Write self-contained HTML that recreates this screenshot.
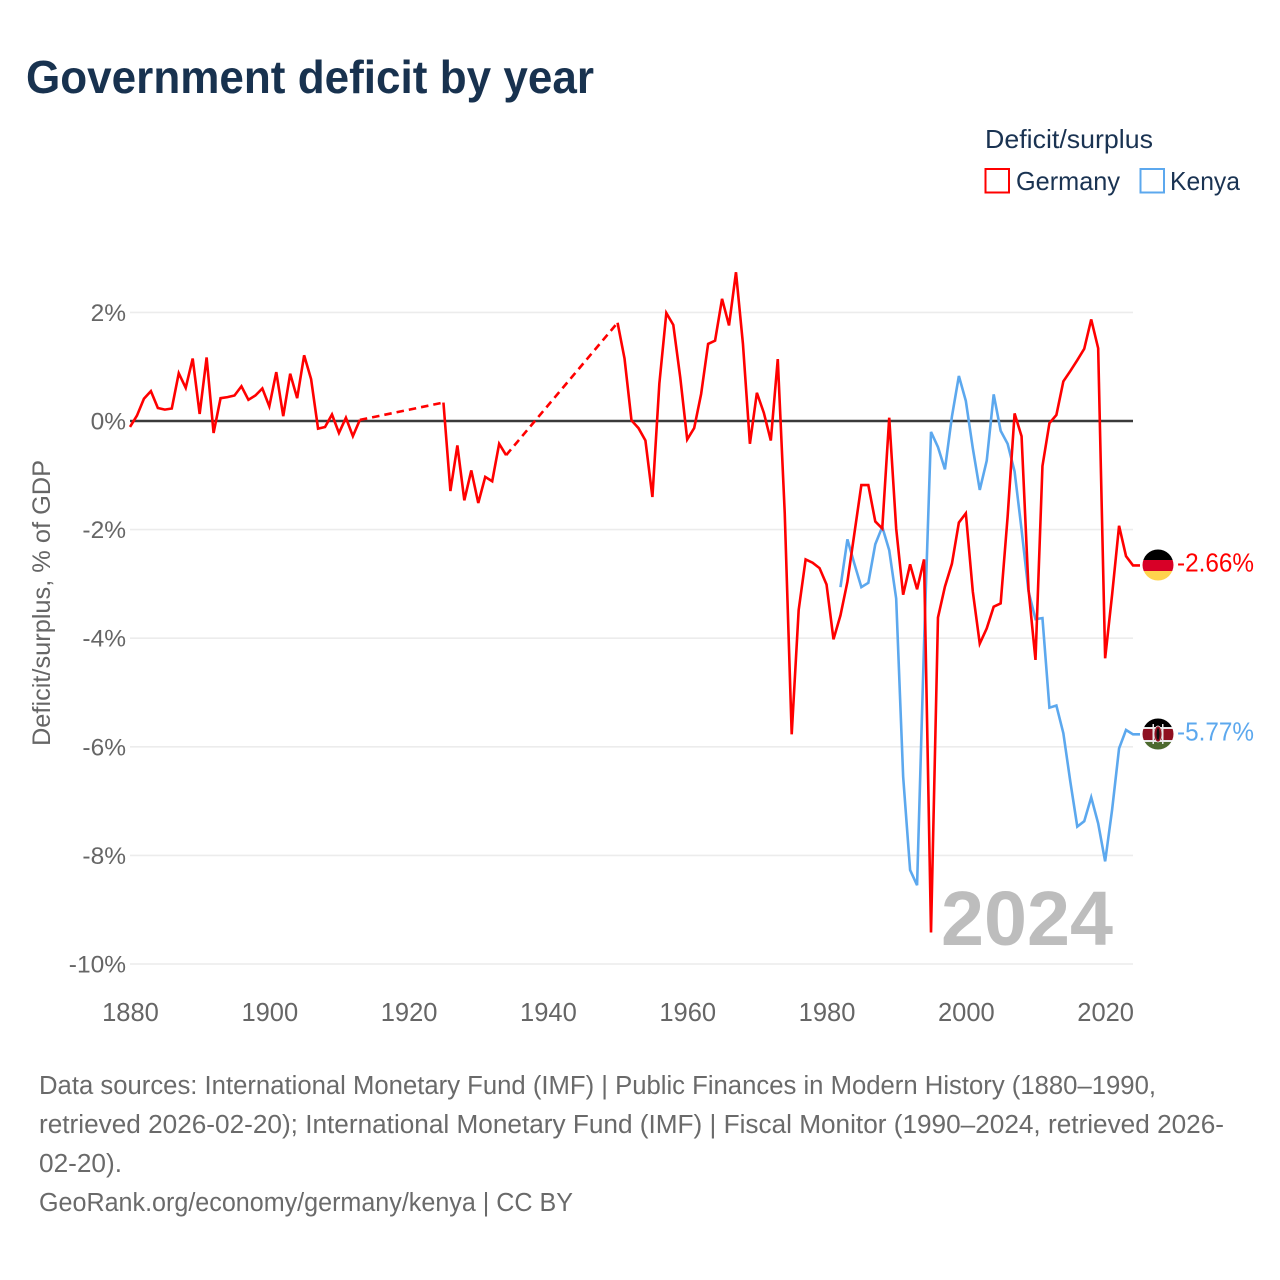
<!DOCTYPE html>
<html lang="en">
<head>
<meta charset="utf-8">
<title>Government deficit by year</title>
<style>
html,body{margin:0;padding:0;background:#fff;}
svg{display:block;}
text{font-family:"Liberation Sans",sans-serif;}
</style>
</head>
<body>
<svg id="chart" xmlns="http://www.w3.org/2000/svg" width="1280" height="1280" viewBox="0 0 1280 1280">
  <defs>
    <clipPath id="clip-de"><circle cx="1158" cy="565" r="15.5"/></clipPath>
    <clipPath id="clip-ke"><circle cx="1158" cy="734" r="15.5"/></clipPath>
  </defs>
  <rect x="0" y="0" width="1280" height="1280" fill="#ffffff"/>
  <text x="26" y="93" font-size="46" font-weight="700" fill="#18324f" textLength="568" lengthAdjust="spacingAndGlyphs">Government deficit by year</text>

  <g>
    <text x="985" y="148" font-size="26" fill="#1a3352" textLength="168" lengthAdjust="spacingAndGlyphs">Deficit/surplus</text>
    <g>
      <rect x="985.5" y="169" width="23.5" height="23.5" fill="#ffffff" stroke="#ff0000" stroke-width="2"/>
      <text x="1016" y="190" font-size="26" fill="#1a3352" textLength="104" lengthAdjust="spacingAndGlyphs">Germany</text>
    </g>
    <g>
      <rect x="1140.5" y="169" width="23.5" height="23.5" fill="#ffffff" stroke="#5ca8ee" stroke-width="2"/>
      <text x="1170" y="190" font-size="26" fill="#1a3352" textLength="70" lengthAdjust="spacingAndGlyphs">Kenya</text>
    </g>
  </g>

  <text transform="translate(50,603) rotate(-90)" text-anchor="middle" font-size="25" fill="#666666" textLength="286" lengthAdjust="spacingAndGlyphs">Deficit/surplus, % of GDP</text>

  <g id="grid"></g>
  <g id="yticks"></g>
  <g id="xticks"></g>

  <text x="941" y="945" font-size="77" font-weight="700" fill="#bdbdbd" textLength="172" lengthAdjust="spacingAndGlyphs">2024</text>

  <g id="series"></g>

  <g>
    <g clip-path="url(#clip-de)">
      <rect x="1142" y="549" width="32" height="11" fill="#000000"/>
      <rect x="1142" y="560" width="32" height="11" fill="#d80027"/>
      <rect x="1142" y="571" width="32" height="11" fill="#ffd34d"/>
    </g>
    <text id="label-de" x="1177" y="571.5" font-size="25.5" fill="#ff0000" textLength="77" lengthAdjust="spacingAndGlyphs"></text>
  </g>
  <g>
    <g clip-path="url(#clip-ke)">
      <rect x="1142" y="718" width="32" height="9" fill="#000000"/>
      <rect x="1142" y="727" width="32" height="2" fill="#e8e8e8"/>
      <rect x="1142" y="729" width="32" height="11" fill="#8f1020"/>
      <rect x="1142" y="740" width="32" height="2" fill="#e8e8e8"/>
      <rect x="1142" y="742" width="32" height="8" fill="#4c6a2e"/>
      <rect x="1152.5" y="724" width="1.5" height="20" fill="#e8e8e8"/>
      <rect x="1162" y="724" width="1.5" height="20" fill="#e8e8e8"/>
      <ellipse cx="1158" cy="734" rx="4" ry="8" fill="#8f1020" stroke="#e8e8e8" stroke-width="0.8"/>
      <ellipse cx="1158" cy="734" rx="1.5" ry="6" fill="#111111"/>
    </g>
    <text id="label-ke" x="1177" y="740.5" font-size="25.5" fill="#5ca8ee" textLength="77" lengthAdjust="spacingAndGlyphs"></text>
  </g>

  <g font-size="25.5" fill="#6a6a6a">
    <text x="39" y="1094" textLength="1117" lengthAdjust="spacingAndGlyphs">Data sources: International Monetary Fund (IMF) | Public Finances in Modern History (1880–1990,</text>
    <text x="39" y="1133" textLength="1185" lengthAdjust="spacingAndGlyphs">retrieved 2026-02-20); International Monetary Fund (IMF) | Fiscal Monitor (1990–2024, retrieved 2026-</text>
    <text x="39" y="1172" textLength="83" lengthAdjust="spacingAndGlyphs">02-20).</text>
    <text x="39" y="1211" textLength="534" lengthAdjust="spacingAndGlyphs">GeoRank.org/economy/germany/kenya | CC BY</text>
  </g>
</svg>
<script>
const xTickLabels = [1880, 1900, 1920, 1940, 1960, 1980, 2000, 2020];
const yTickLabels = [2, 0, -2, -4, -6, -8, -10];

const germanyYears = [1880,1881,1882,1883,1884,1885,1886,1887,1888,1889,1890,1891,1892,1893,1894,1895,1896,1897,1898,1899,1900,1901,1902,1903,1904,1905,1906,1907,1908,1909,1910,1911,1912,1913,1925,1926,1927,1928,1929,1930,1931,1932,1933,1934,1950,1951,1952,1953,1954,1955,1956,1957,1958,1959,1960,1961,1962,1963,1964,1965,1966,1967,1968,1969,1970,1971,1972,1973,1974,1975,1976,1977,1978,1979,1980,1981,1982,1983,1984,1985,1986,1987,1988,1989,1990,1991,1992,1993,1994,1995,1996,1997,1998,1999,2000,2001,2002,2003,2004,2005,2006,2007,2008,2009,2010,2011,2012,2013,2014,2015,2016,2017,2018,2019,2020,2021,2022,2023,2024];
const germanyValues = [-0.11,0.10,0.41,0.55,0.24,0.21,0.23,0.88,0.61,1.15,0.13,1.17,-0.22,0.42,0.44,0.47,0.64,0.39,0.47,0.60,0.27,0.90,0.09,0.87,0.42,1.21,0.77,-0.14,-0.11,0.12,-0.22,0.06,-0.28,0.02,0.34,-1.29,-0.45,-1.46,-0.91,-1.51,-1.03,-1.11,-0.42,-0.63,1.81,1.15,0.01,-0.13,-0.36,-1.40,0.69,1.99,1.77,0.80,-0.34,-0.13,0.50,1.42,1.48,2.25,1.76,2.74,1.42,-0.42,0.52,0.15,-0.36,1.14,-1.70,-5.77,-3.48,-2.55,-2.61,-2.71,-3.01,-4.02,-3.58,-2.96,-2.07,-1.18,-1.18,-1.85,-1.98,0.06,-1.98,-3.20,-2.64,-3.10,-2.55,-9.42,-3.62,-3.05,-2.63,-1.87,-1.70,-3.14,-4.10,-3.82,-3.42,-3.36,-1.76,0.14,-0.28,-3.10,-4.40,-0.83,-0.04,0.11,0.73,0.92,1.12,1.33,1.87,1.34,-4.37,-3.20,-1.93,-2.49,-2.66];

const kenyaYears = [1982,1983,1984,1985,1986,1987,1988,1989,1990,1991,1992,1993,1994,1995,1996,1997,1998,1999,2000,2001,2002,2003,2004,2005,2006,2007,2008,2009,2010,2011,2012,2013,2014,2015,2016,2017,2018,2019,2020,2021,2022,2023,2024];
const kenyaValues = [-3.06,-2.18,-2.63,-3.06,-2.98,-2.27,-1.95,-2.38,-3.27,-6.55,-8.27,-8.55,-4.10,-0.20,-0.48,-0.89,0.08,0.83,0.37,-0.50,-1.27,-0.73,0.49,-0.18,-0.42,-0.93,-2.00,-3.14,-3.65,-3.63,-5.28,-5.24,-5.75,-6.64,-7.47,-7.37,-6.93,-7.41,-8.11,-7.16,-6.03,-5.69,-5.77];

const NS = 'http://www.w3.org/2000/svg';
const plotLeft = 130;
const plotRight = 1133;
function xScale(year) { return plotLeft + (year - 1880) * (plotRight - plotLeft) / 144; }
function yScale(v) { return 421 - v * 54.3; }
function make(tag, attrs) {
  const el = document.createElementNS(NS, tag);
  Object.keys(attrs).forEach(function (k) { el.setAttribute(k, attrs[k]); });
  return el;
}

const grid = document.getElementById('grid');
const yticks = document.getElementById('yticks');
const xticks = document.getElementById('xticks');

yTickLabels.forEach(function (v) {
  const line = make('line', { x1: plotLeft, x2: plotRight, y1: yScale(v), y2: yScale(v), stroke: '#ececec', 'stroke-width': 1.6 });
  
  
  grid.appendChild(line);
  const t = make('text', { x: 126, y: yScale(v) + 8.5, 'text-anchor': 'end', 'font-size': 24.5, fill: '#666666' });
  
  
  t.textContent = v + '%';
  yticks.appendChild(t);
});

xTickLabels.forEach(function (year) {
  const t = make('text', { x: xScale(year) + 0.5, y: 1021, 'text-anchor': 'middle', 'font-size': 25.5, fill: '#666666' });
  
  
  t.textContent = year;
  xticks.appendChild(t);
});

const zero = make('line', { x1: plotLeft, x2: plotRight, y1: yScale(0), y2: yScale(0), stroke: '#3a3a3a', 'stroke-width': 2.6 });


grid.appendChild(zero);

const seriesGroup = document.getElementById('series');
function drawSeries(years, values, color, name) {
  const g = make('g', { fill: 'none', stroke: color, 'stroke-width': 2.6, 'stroke-linejoin': 'miter' });
  
  
  let run = [];
  function flush() {
    if (run.length > 1) {
      const p = make('polyline', { points: run.join(' ') });
      
      
      g.appendChild(p);
    }
  }
  years.forEach(function (year, i) {
    const pt = xScale(year).toFixed(2) + ',' + yScale(values[i]).toFixed(2);
    if (i > 0 && year - years[i - 1] > 1) {
      flush();
      const prev = xScale(years[i - 1]).toFixed(2) + ',' + yScale(values[i - 1]).toFixed(2);
      const dash = make('polyline', { points: prev + ' ' + pt, 'stroke-dasharray': '7.5 5' });
      
      
      g.appendChild(dash);
      run = [];
    }
    run.push(pt);
  });
  const lastIndex = values.length - 1;
  run.push((xScale(years[lastIndex]) + 7).toFixed(2) + ',' + yScale(values[lastIndex]).toFixed(2));
  flush();
  seriesGroup.appendChild(g);
}
drawSeries(kenyaYears, kenyaValues, '#5ca8ee', 'kenya-line');
drawSeries(germanyYears, germanyValues, '#ff0000', 'germany-line');

document.getElementById('label-de').textContent = germanyValues[germanyValues.length - 1].toFixed(2) + '%';
document.getElementById('label-ke').textContent = kenyaValues[kenyaValues.length - 1].toFixed(2) + '%';
</script>
</body>
</html>
